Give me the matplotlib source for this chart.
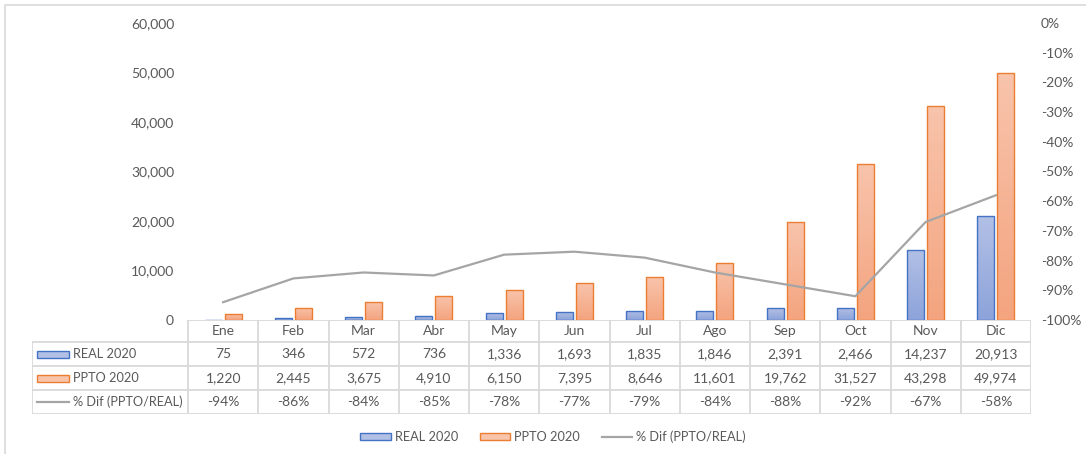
"""Excel-style combo chart: REAL vs PPTO 2020 bars, % difference line, data table below."""

import numpy as np
import matplotlib

matplotlib.use("Agg")
import matplotlib.pyplot as plt
from matplotlib.colors import LinearSegmentedColormap
from matplotlib.lines import Line2D
from matplotlib.patches import Patch, Rectangle

months = ["Ene", "Feb", "Mar", "Abr", "May", "Jun", "Jul", "Ago", "Sep", "Oct", "Nov", "Dic"]
real_2020 = [75, 346, 572, 736, 1336, 1693, 1835, 1846, 2391, 2466, 14237, 20913]
ppto_2020 = [1220, 2445, 3675, 4910, 6150, 7395, 8646, 11601, 19762, 31527, 43298, 49974]
pct_dif = [-94, -86, -84, -85, -78, -77, -79, -84, -88, -92, -67, -58]
series_names = ["REAL 2020", "PPTO 2020", "% Dif (PPTO/REAL)"]

TEXT = "#595959"
GRID = "#D9D9D9"
BLUE_EDGE, BLUE_TOP, BLUE_BOT = "#4472C4", "#B2C0E5", "#8DA3DA"
ORANGE_EDGE, ORANGE_TOP, ORANGE_BOT = "#ED7D31", "#F8C4AC", "#F4A47F"
LINE = "#A5A5A5"

plt.rcParams["font.family"] = ["Lato", "DejaVu Sans"]
plt.rcParams["font.size"] = 10

W, H = 1086, 454
fig = plt.figure(figsize=(W / 100, H / 100), dpi=100)

# outer chart border (top + left visible)
frame = fig.add_axes([0, 0, 1, 1], zorder=-5)
frame.set_xlim(0, W)
frame.set_ylim(H, 0)
frame.axis("off")
frame.plot([5, 5, W], [H, 5, 5], color=GRID, lw=1.2)

# plot area in pixels
PL, PR, PT, PB = 188, 1031, 23, 320
col_w = (PR - PL) / 12
ax = fig.add_axes([PL / W, 1 - PB / H, (PR - PL) / W, (PB - PT) / H])
x = np.arange(len(months))
bw, off = 0.242, 0.143


def gradient_bars(xpos, vals, top, bot, edge):
    cmap = LinearSegmentedColormap.from_list("g", [bot, top])
    grad = np.linspace(0, 1, 64).reshape(-1, 1)
    bars = ax.bar(xpos, vals, width=bw, facecolor="none", edgecolor=edge, linewidth=1.0, zorder=3)
    for b in bars:
        im = ax.imshow(grad, cmap=cmap, origin="lower", aspect="auto", zorder=2,
                       extent=[b.get_x(), b.get_x() + b.get_width(), 0, b.get_height()])
        im.set_clip_path(b)


gradient_bars(x - off, real_2020, BLUE_TOP, BLUE_BOT, BLUE_EDGE)
gradient_bars(x + off, ppto_2020, ORANGE_TOP, ORANGE_BOT, ORANGE_EDGE)
ax.set_xlim(-0.5, 11.5)
ax.set_ylim(0, 60000)
ax.set_yticks(range(0, 60001, 10000))
ax.set_yticklabels([f"{v:,}" for v in range(0, 60001, 10000)])
ax.set_xticks([])
ax.tick_params(axis="y", length=0, pad=10, colors=TEXT, labelsize=10)
for s in ax.spines.values():
    s.set_visible(False)
ax.patch.set_alpha(0)

ax2 = ax.twinx()
ax2.plot(x, pct_dif, color=LINE, lw=1.6, zorder=4)
ax2.set_ylim(-100, 0)
ax2.set_yticks(range(-100, 1, 10))
ax2.set_yticklabels([f"{v}%" for v in range(-100, 1, 10)])
ax2.tick_params(axis="y", length=0, pad=7, colors=TEXT, labelsize=10)
for s in ax2.spines.values():
    s.set_visible(False)

# data table
TL, TB = 32, 414
tab = fig.add_axes([TL / W, 1 - TB / H, (PR - TL) / W, (TB - PB) / H])
left_x = -0.5 - (PL - TL) / col_w
tab.set_xlim(left_x, 11.5)
tab.set_ylim(TB - PB, 0)
tab.axis("off")


def px(p):
    return -0.5 - (PL - p) / col_w


rows = [0, 22, 46, 70, 94]
kw = dict(color=GRID, lw=1.3, solid_capstyle="butt")
tab.plot([-0.5, 11.5], [rows[0]] * 2, **kw)
for r in rows[1:]:
    tab.plot([left_x, 11.5], [r, r], **kw)
tab.plot([left_x, left_x], [rows[1], rows[-1]], **kw)
for i in range(13):
    tab.plot([i - 0.5, i - 0.5], [rows[0], rows[-1]], **kw)

for i, m in enumerate(months):
    tab.text(i, (rows[0] + rows[1]) / 2, m, ha="center", va="center", color=TEXT)
    tab.text(i, (rows[1] + rows[2]) / 2, f"{real_2020[i]:,}", ha="center", va="center", color=TEXT)
    tab.text(i, (rows[2] + rows[3]) / 2, f"{ppto_2020[i]:,}", ha="center", va="center", color=TEXT)
    tab.text(i, (rows[3] + rows[4]) / 2, f"{pct_dif[i]}%", ha="center", va="center", color=TEXT)

LABEL_FS = 9.2
key_l, key_r = px(37), px(69)
for k, (name, fc, ec) in enumerate([(series_names[0], BLUE_TOP, BLUE_EDGE),
                                     (series_names[1], ORANGE_TOP, ORANGE_EDGE)]):
    yc = (rows[k + 1] + rows[k + 2]) / 2
    tab.add_patch(Rectangle((key_l, yc - 3.5), key_r - key_l, 7, facecolor=fc, edgecolor=ec, lw=1.0))
    tab.text(px(73), yc, name, ha="left", va="center", color=TEXT, fontsize=LABEL_FS)
yc = (rows[3] + rows[4]) / 2
tab.plot([key_l, key_r], [yc, yc], color=LINE, lw=1.6)
tab.text(px(73), yc, series_names[2], ha="left", va="center", color=TEXT, fontsize=LABEL_FS)

# bottom legend
handles = [
    Patch(facecolor=BLUE_TOP, edgecolor=BLUE_EDGE, lw=1.0),
    Patch(facecolor=ORANGE_TOP, edgecolor=ORANGE_EDGE, lw=1.0),
    Line2D([0], [0], color=LINE, lw=1.6),
]
fig.legend(handles, series_names, loc="center", ncol=3, frameon=False,
           bbox_to_anchor=(553 / W, 1 - 437 / H), handlelength=2.4, handleheight=0.5,
           handletextpad=0.3, columnspacing=1.7, labelcolor=TEXT, fontsize=LABEL_FS)

fig.savefig("out.png", dpi=100)
